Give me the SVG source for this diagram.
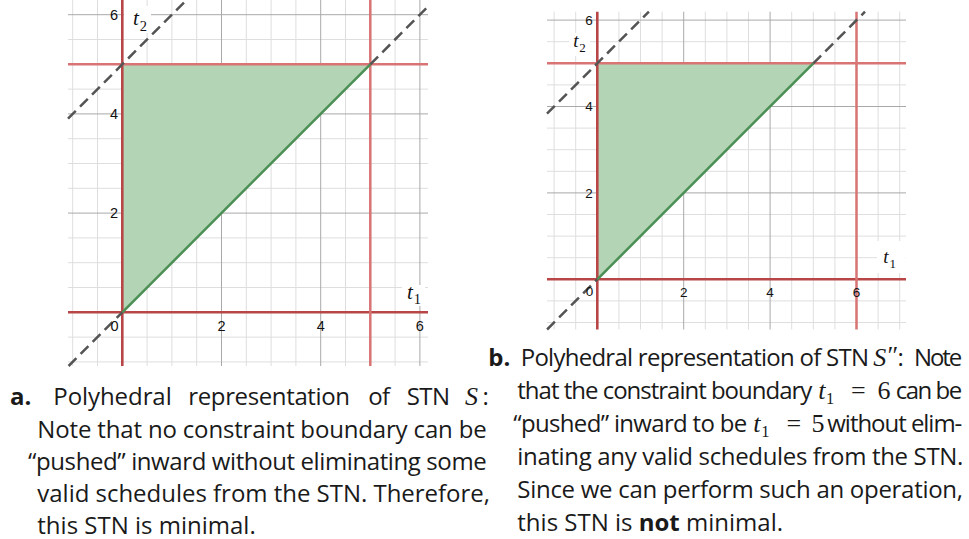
<svg xmlns="http://www.w3.org/2000/svg" width="969" height="539" viewBox="0 0 969 539">
<style>
.minor{stroke:#dedede;stroke-width:1;fill:none}
.major{stroke:#a9a9a9;stroke-width:1;fill:none}
.axisred{stroke:#b84646;stroke-width:2.6;fill:none}
.bound{stroke:#d87474;stroke-width:2.5;fill:none}
.dash{stroke:#545454;stroke-width:2.5;stroke-dasharray:11 6;fill:none}
.hyp{stroke:#4b8f55;stroke-width:2.5;fill:none}
.region{fill:#b3d4b5}
.tick{font-family:"Liberation Sans",Arial,sans-serif;fill:#111}
.var{font-family:"Liberation Serif","DejaVu Serif",serif;fill:#111}
.cap{font-family:"Open Sans","Noto Sans",sans-serif;font-size:24px;fill:#1a1a1a}
.b{font-weight:700}
.m{font-family:"Liberation Serif","DejaVu Serif",serif;font-size:26px;fill:#1a1a1a}
.mi{font-style:italic}
</style>
<rect width="969" height="539" fill="#ffffff"/>

<g id="chart-a">
  <path class="minor" d="M72.7 0V366M97.5 0V366M147.1 0V366M171.9 0V366M196.7 0V366M246.3 0V366M271.1 0V366M295.9 0V366M345.5 0V366M370.3 0V366M395.1 0V366M68 361.9H428M68 337.1H428M68 287.5H428M68 262.7H428M68 237.9H428M68 188.3H428M68 163.5H428M68 138.7H428M68 89.1H428M68 64.3H428M68 39.5H428"/>
  <path class="major" d="M221.5 0V366M320.7 0V366M419.9 0V366M68 213.1H428M68 113.9H428M68 14.7H428"/>
  <polygon class="region" points="122.3,312.3 122.3,64.3 370.3,64.3"/>
  <path class="axisred" d="M122.3 0V366M68 312.3H428"/>
  <path class="bound" d="M370.3 0V366M68 64.3H428"/>
  <line class="hyp" x1="122.3" y1="312.3" x2="370.3" y2="64.3"/>
  <path class="dash" d="M68 118.6L186.6 0M68.6 366L122.3 312.3M370.3 64.3L428 6.6"/>
  <g class="tick" font-size="14.5">
    <text x="118" y="20" text-anchor="end">6</text>
    <text x="118" y="119.2" text-anchor="end">4</text>
    <text x="118" y="218.4" text-anchor="end">2</text>
    <text x="118.5" y="330.5" text-anchor="end">0</text>
    <text x="221.5" y="330.5" text-anchor="middle">2</text>
    <text x="320.7" y="330.5" text-anchor="middle">4</text>
    <text x="419.9" y="330.5" text-anchor="middle">6</text>
  </g>
  <rect x="124" y="6" width="27" height="27" fill="#ffffff"/>
  <text class="var" x="133" y="25" font-size="21"><tspan class="mi">t</tspan><tspan x="139.8" dy="5.5" font-size="14.5">2</tspan></text>
  <rect x="402" y="285" width="23" height="21" fill="#ffffff"/>
  <text class="var" x="407" y="299.3" font-size="21"><tspan class="mi">t</tspan><tspan x="413.8" dy="5" font-size="14.5">1</tspan></text>
</g>

<g id="chart-b">
  <path class="minor" d="M554.1 11.7V329.5M575.7 11.7V329.5M618.9 11.7V329.5M640.5 11.7V329.5M662.1 11.7V329.5M705.3 11.7V329.5M726.9 11.7V329.5M748.5 11.7V329.5M791.7 11.7V329.5M813.3 11.7V329.5M834.9 11.7V329.5M878.1 11.7V329.5M899.7 11.7V329.5M547 322.5H906M547 300.9H906M547 257.7H906M547 236.1H906M547 214.5H906M547 171.3H906M547 149.7H906M547 128.1H906M547 84.9H906M547 63.3H906M547 41.7H906"/>
  <path class="major" d="M683.7 11.7V329.5M770.1 11.7V329.5M547 192.9H906M547 106.5H906M547 20.1H906"/>
  <polygon class="region" points="597.3,279.3 597.3,63.3 813.3,63.3"/>
  <path class="axisred" d="M597.3 11.7V329.5M547 279.3H906"/>
  <path class="bound" d="M856.5 11.7V329.5M547 63.3H906"/>
  <line class="hyp" x1="597.3" y1="279.3" x2="813.3" y2="63.3"/>
  <path class="dash" d="M547 113.6L648.9 11.7M547.1 329.5L597.3 279.3M813.3 63.3L865 11.7"/>
  <g class="tick" font-size="13.5">
    <text x="592.8" y="25" text-anchor="end">6</text>
    <text x="592.8" y="111.4" text-anchor="end">4</text>
    <text x="592.8" y="197.8" text-anchor="end">2</text>
    <text x="593.3" y="296" text-anchor="end">0</text>
    <text x="683.7" y="296.5" text-anchor="middle">2</text>
    <text x="770.1" y="296.5" text-anchor="middle">4</text>
    <text x="856.5" y="296.5" text-anchor="middle">6</text>
  </g>
  <rect x="569" y="33" width="21" height="23" fill="#ffffff"/>
  <text class="var" x="573.3" y="46.7" font-size="19"><tspan class="mi">t</tspan><tspan x="579.3" dy="5.3" font-size="13">2</tspan></text>
  <rect x="877" y="241" width="28.5" height="32" fill="#ffffff"/>
  <text class="var" x="883.3" y="263.3" font-size="19"><tspan class="mi">t</tspan><tspan x="889.5" dy="5" font-size="13">1</tspan></text>
</g>

<g id="caption-a">
  <text class="cap b" x="10" y="405">a.</text>
  <text class="cap" x="53.3" y="405" textLength="118.4" lengthAdjust="spacing">Polyhedral</text>
  <text class="cap" x="188.3" y="405" textLength="161.7" lengthAdjust="spacing">representation</text>
  <text class="cap" x="368.3" y="405" textLength="21.7" lengthAdjust="spacing">of</text>
  <text class="cap" x="406.7" y="405" textLength="43.3" lengthAdjust="spacing">STN</text>
  <text class="cap" x="465" y="405"><tspan class="m mi">S</tspan><tspan x="482.5">:</tspan></text>
  <text class="cap" x="37.3" y="437.5" textLength="449.4" lengthAdjust="spacing">Note that no constraint boundary can be</text>
  <text class="cap" x="28" y="470" textLength="458.7" lengthAdjust="spacing">“pushed” inward without eliminating some</text>
  <text class="cap" x="37.3" y="502" textLength="452.7" lengthAdjust="spacing">valid schedules from the STN. Therefore,</text>
  <text class="cap" x="37.3" y="533.5">this STN is minimal.</text>
</g>

<g id="caption-b">
  <text class="cap b" x="488.3" y="366">b.</text>
  <text class="cap" x="520.7" y="366" textLength="348.3" lengthAdjust="spacing">Polyhedral representation of STN</text>
  <text class="cap" x="873.3" y="366"><tspan class="m mi">S</tspan><tspan class="m" x="887.5" dy="-2" font-size="20">″</tspan><tspan x="897.5" dy="2">:</tspan></text>
  <text class="cap" x="914" y="366" textLength="48.3" lengthAdjust="spacing">Note</text>

  <text class="cap" x="517.3" y="399" textLength="295" lengthAdjust="spacing">that the constraint boundary</text>
  <text class="m" x="818.3" y="399"><tspan class="mi">t</tspan><tspan x="826" dy="4.5" font-size="16.5">1</tspan><tspan x="851" dy="-4.5">=</tspan><tspan x="877.5">6</tspan></text>
  <text class="cap" x="895.7" y="399" textLength="66.6" lengthAdjust="spacing">can be</text>

  <text class="cap" x="513.3" y="432" textLength="234" lengthAdjust="spacing">“pushed” inward to be</text>
  <text class="m" x="753.3" y="432"><tspan class="mi">t</tspan><tspan x="761.3" dy="4.5" font-size="16.5">1</tspan><tspan x="786.5" dy="-4.5">=</tspan><tspan x="811.5">5</tspan></text>
  <text class="cap" x="827.3" y="432" textLength="135" lengthAdjust="spacing">without elim-</text>

  <text class="cap" x="517.3" y="465" textLength="446" lengthAdjust="spacing">inating any valid schedules from the STN.</text>
  <text class="cap" x="517.3" y="498" textLength="445.7" lengthAdjust="spacing">Since we can perform such an operation,</text>
  <text class="cap" x="517.3" y="531">this STN is <tspan class="b">not</tspan> minimal.</text>
</g>
</svg>
